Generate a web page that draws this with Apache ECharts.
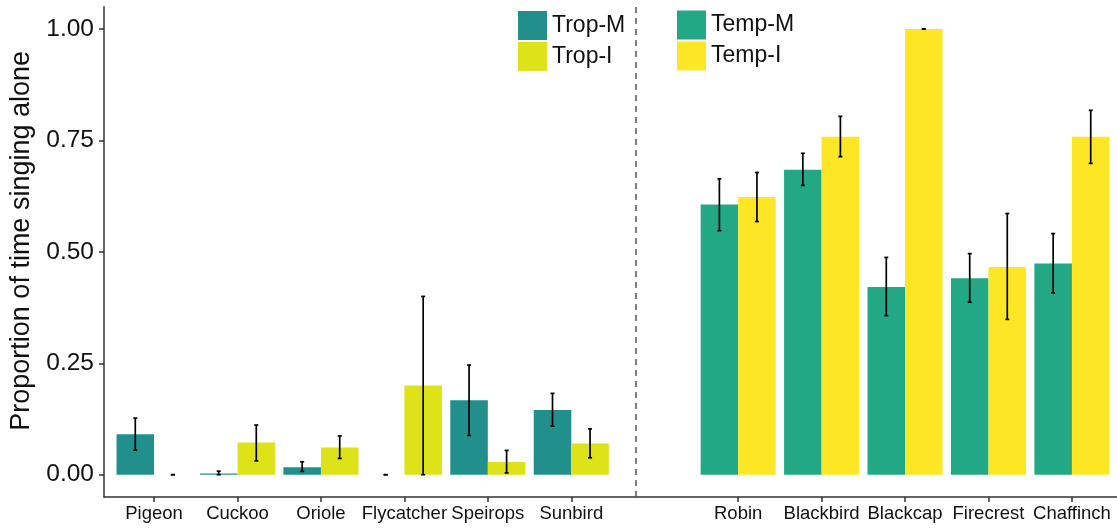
<!DOCTYPE html>
<html>
<head>
<meta charset="utf-8">
<script src="https://cdn.jsdelivr.net/npm/echarts@6/dist/echarts.min.js"></script>
<style>
html,body{margin:0;padding:0;background:#fff;}
#chart{width:1117px;height:528px;}
</style>
</head>
<body>
<div id="chart"></div>
<script>
// Category slots (index 6 is the empty separator slot)
const categories = ['Pigeon','Cuckoo','Oriole','Flycatcher','Speirops','Sunbird','','Robin','Blackbird','Blackcap','Firecrest','Chaffinch'];

const tropM     = [0.091, 0.003, 0.017, 0,     0.167,  0.145, null, null, null, null, null, null];
const tropMLow  = [0.055, 0.0,   0.0075,0,     0.088,  0.109, null, null, null, null, null, null];
const tropMHigh = [0.127, 0.008, 0.029, 0,     0.246,  0.1825,null, null, null, null, null, null];

const tropI     = [0,     0.072, 0.061, 0.200, 0.0285, 0.070, null, null, null, null, null, null];
const tropILow  = [0,     0.031, 0.0365,0,     0.004,  0.038, null, null, null, null, null, null];
const tropIHigh = [0,     0.1115,0.087, 0.400, 0.0545, 0.103, null, null, null, null, null, null];

const tempM     = [null, null, null, null, null, null, null, 0.606,  0.684, 0.421,  0.4405, 0.474];
const tempMLow  = [null, null, null, null, null, null, null, 0.5475, 0.649, 0.357,  0.387,  0.408];
const tempMHigh = [null, null, null, null, null, null, null, 0.664,  0.721, 0.4875, 0.496,  0.541];

const tempI     = [null, null, null, null, null, null, null, 0.623, 0.758,  1.0, 0.466,  0.758];
const tempILow  = [null, null, null, null, null, null, null, 0.568, 0.7135, 1.0, 0.3485, 0.6985];
const tempIHigh = [null, null, null, null, null, null, null, 0.678, 0.804,  1.0, 0.586,  0.8175];

const yTicks = [0, 0.25, 0.5, 0.75, 1.0];
const separatorSlot = 6;

const COLORS = { 'Trop-M': '#21908C', 'Trop-I': '#DDE318', 'Temp-M': '#22A884', 'Temp-I': '#FDE725' };
const FONT = '"Liberation Sans", Arial, Helvetica, sans-serif';
const DODGE = 0.225; // half of dodged bar width in category units

const xTickValues = categories.map((c, i) => c ? i : null).filter(v => v !== null);

function barData(vals) { return vals.map((v, i) => [i, v]); }
function errData(lo, hi) {
  const out = [];
  lo.forEach((v, i) => { if (v !== null) out.push([i, v, hi[i]]); });
  return out;
}
function errSeries(name, lo, hi, sign) {
  return {
    name: name, type: 'custom', z: 5, silent: true,
    data: errData(lo, hi),
    encode: { x: 0, y: [1, 2] },
    renderItem: function (params, api) {
      const i = api.value(0), l = api.value(1), h = api.value(2);
      const pL = api.coord([i, l]);
      const pH = api.coord([i, h]);
      const off = api.size([DODGE, 0])[0];
      const x = pL[0] + sign * off;
      const cap = 2;
      const st = { stroke: '#000', lineWidth: 1.7 };
      return {
        type: 'group',
        children: [
          { type: 'line', shape: { x1: x, y1: pL[1], x2: x, y2: pH[1] }, style: st },
          { type: 'line', shape: { x1: x - cap, y1: pL[1], x2: x + cap, y2: pL[1] }, style: st },
          { type: 'line', shape: { x1: x - cap, y1: pH[1], x2: x + cap, y2: pH[1] }, style: st }
        ]
      };
    }
  };
}
function barSeries(name, vals, stack, extra) {
  return Object.assign({
    name: name, type: 'bar', stack: stack,
    data: barData(vals),
    barWidth: '45%', barGap: '0%',
    itemStyle: { color: COLORS[name] }
  }, extra || {});
}

const chart = echarts.init(document.getElementById('chart'), null, { renderer: 'canvas' });
const legendCommon = {
  orient: 'vertical', icon: 'rect', itemWidth: 29, itemHeight: 29, itemGap: 2,
  textStyle: { fontSize: 23, color: '#111', fontFamily: FONT },
  selectedMode: false
};
chart.setOption({
  animation: false,
  textStyle: { fontFamily: FONT },
  grid: { left: 104, right: 0, top: 6.7, bottom: 31, containLabel: false },
  legend: [
    Object.assign({ data: ['Trop-M', 'Trop-I'], left: 513, top: 6 }, legendCommon),
    Object.assign({ data: ['Temp-M', 'Temp-I'], left: 672, top: 5.5 }, legendCommon)
  ],
  xAxis: {
    type: 'value', min: -0.6, max: 11.54,
    axisLine: { show: true, onZero: false, lineStyle: { color: '#333', width: 1.5 } },
    axisTick: { show: true, customValues: xTickValues, length: 5, lineStyle: { color: '#333', width: 1.5 } },
    axisLabel: {
      customValues: xTickValues, margin: 7, fontSize: 18.5, color: '#111', fontFamily: FONT,
      formatter: v => categories[Math.round(v)]
    },
    splitLine: { show: false }
  },
  yAxis: {
    type: 'value', min: -0.05, max: 1.05,
    name: 'Proportion of time singing alone', nameLocation: 'middle', nameGap: 66,
    nameTextStyle: { fontSize: 27, color: '#111', fontFamily: FONT, padding: [0, 0, 0, 22] },
    axisLine: { show: true, onZero: false, lineStyle: { color: '#333', width: 1.5 } },
    axisTick: { show: true, customValues: yTicks, length: 5, lineStyle: { color: '#333', width: 1.5 } },
    axisLabel: {
      customValues: yTicks, margin: 10, fontSize: 24.5, color: '#111', fontFamily: FONT,
      formatter: v => v.toFixed(2)
    },
    splitLine: { show: false }
  },
  series: [
    barSeries('Trop-M', tropM, 'M', {
      markLine: {
        silent: true, symbol: 'none', label: { show: false },
        lineStyle: { type: [6, 5], color: '#555', width: 1.5 },
        data: [{ xAxis: separatorSlot }]
      }
    }),
    barSeries('Trop-I', tropI, 'I'),
    barSeries('Temp-M', tempM, 'M'),
    barSeries('Temp-I', tempI, 'I'),
    errSeries('errTropM', tropMLow, tropMHigh, -1),
    errSeries('errTropI', tropILow, tropIHigh, 1),
    errSeries('errTempM', tempMLow, tempMHigh, -1),
    errSeries('errTempI', tempILow, tempIHigh, 1)
  ]
});
</script>
</body>
</html>
